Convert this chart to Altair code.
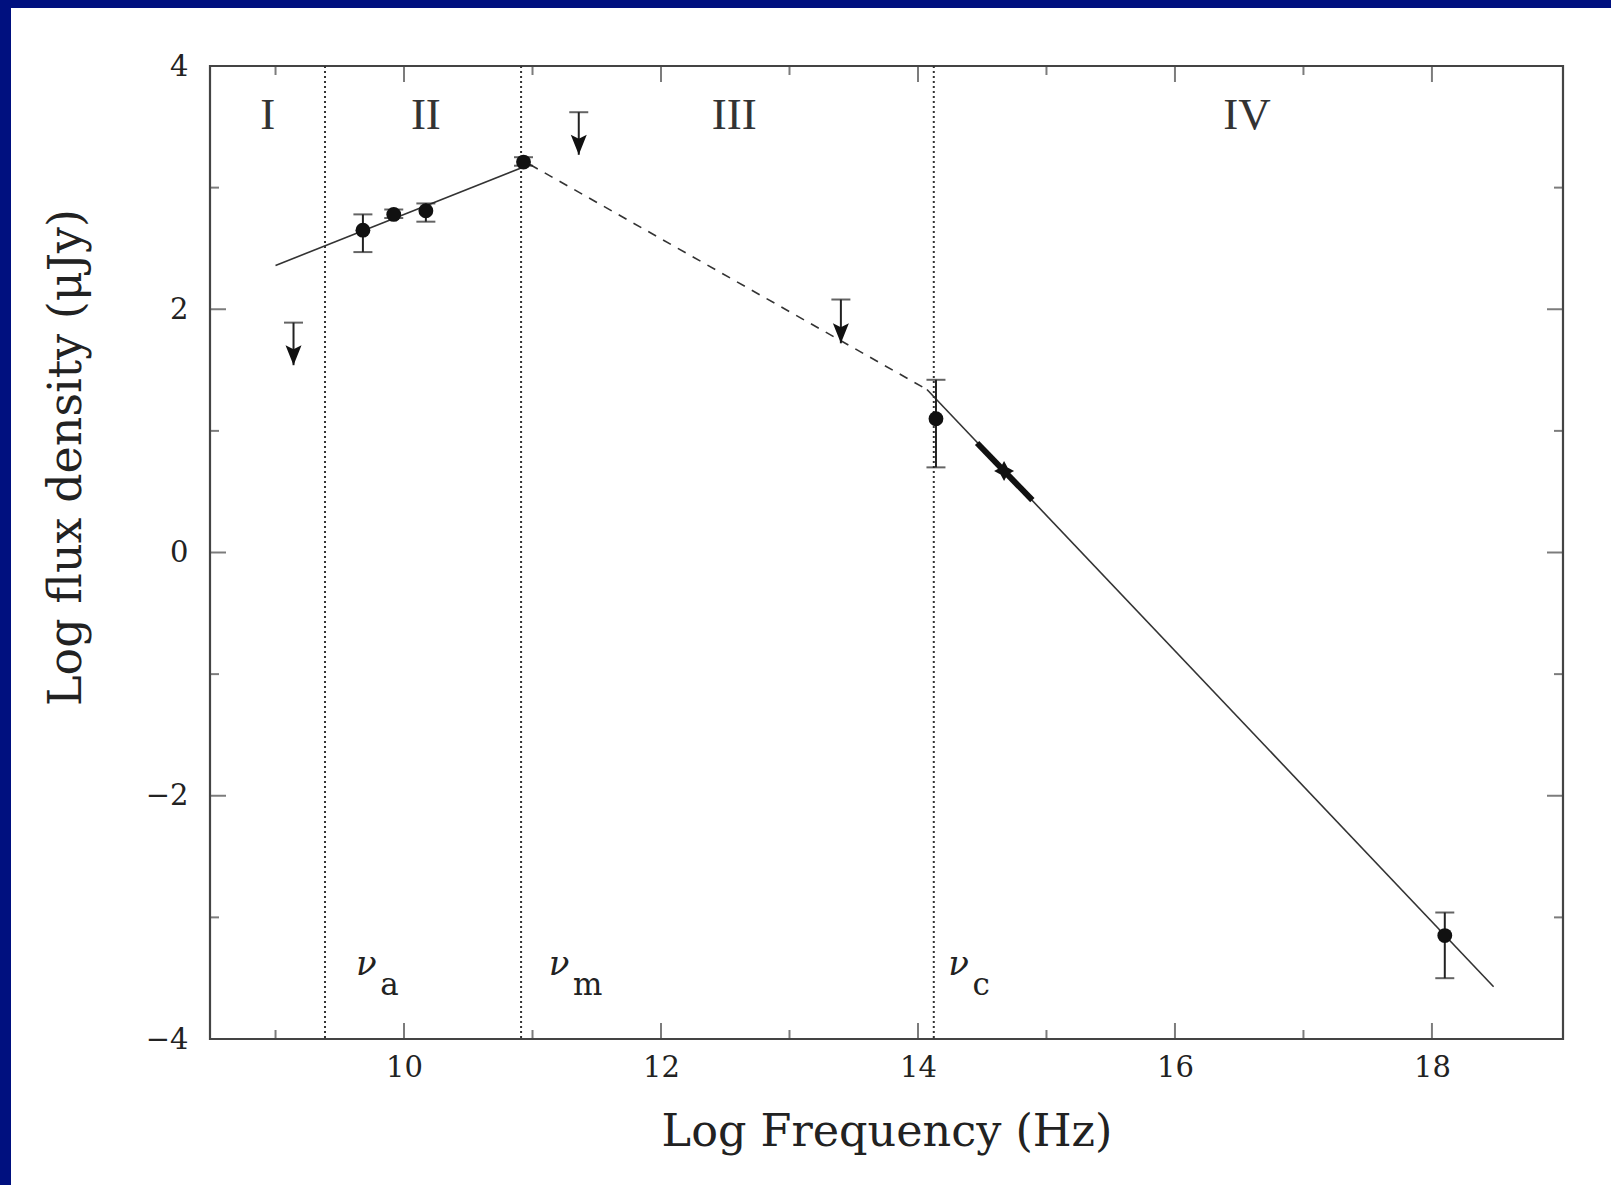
import altair as alt
import pandas as pd

# ---------------- data ----------------
X_DOMAIN = [8.49, 19.02]
Y_DOMAIN = [-4, 4]
x_major = [10, 12, 14, 16, 18]
x_minor = [9, 11, 13, 15, 17]
y_major = [-4, -2, 0, 2, 4]
y_major_inner = [-2, 0, 2]
y_minor = [-3, -1, 1, 3]

# spectral break frequencies (vertical dotted lines) and their labels
break_sub = ["a", "m", "c"]
break_x = [9.385, 10.911, 14.123]
break_label_x = [9.706, 11.207, 14.315]
break_label_y = [-3.474, -3.474, -3.474]

# spectral regimes
regions = ["I", "II", "III", "IV"]
region_x = [8.94, 10.17, 12.57, 16.56]
region_y = [3.48, 3.48, 3.48, 3.48]

# fitted broken power law
rise_x = [9.0, 10.98]
rise_y = [2.36, 3.19]
mid_x = [10.98, 14.07]
mid_y = [3.19, 1.34]
fall_x = [14.07, 18.48]
fall_y = [1.34, -3.57]

# detections with error bars
det_x = [9.68, 9.92, 10.17, 10.93, 14.14, 18.10]
det_y = [2.65, 2.78, 2.81, 3.21, 1.10, -3.15]
det_lo = [2.47, 2.75, 2.72, 3.18, 0.70, -3.50]
det_hi = [2.78, 2.82, 2.87, 3.25, 1.42, -2.96]

# upper limits
ul_x = [9.14, 11.36, 13.40]
ul_cap = [1.89, 3.62, 2.08]
ul_tip = [1.54, 3.27, 1.72]

# optical spectrum segment and point
opt_x = [14.46, 14.89]
opt_y = [0.90, 0.43]
opt_pt_x = [14.67]
opt_pt_y = [0.67]

# ---------------- styling ----------------
W, H = 1353, 973
FONT = "DejaVu Serif"
INK = "#222222"
FRAME = "#444444"
NAVY = "#00107f"

xs = alt.Scale(domain=X_DOMAIN, nice=False, zero=False)
ys = alt.Scale(domain=Y_DOMAIN, nice=False, zero=False)

x_axis = alt.Axis(values=x_major, format="d", ticks=False, tickSize=0, domain=False,
                  grid=False, labelFont=FONT, labelFontSize=29, labelColor=INK,
                  labelPadding=14, labelFlush=False,
                  title="Log Frequency (Hz)", titleFont=FONT, titleFontSize=44.5,
                  titleFontWeight="normal", titleColor=INK, titleY=106,
                  titleBaseline="alphabetic")
y_axis = alt.Axis(values=y_major, format="d", ticks=False, tickSize=0, domain=False,
                  grid=False, labelFont=FONT, labelFontSize=29, labelColor=INK,
                  labelPadding=22, labelFlush=False,
                  title="Log flux density (μJy)", titleFont=FONT, titleFontSize=46,
                  titleFontWeight="normal", titleColor=INK, titleAngle=270,
                  titleX=-130, titleY=391, titleAlign="center",
                  titleBaseline="alphabetic")

X = alt.X("x:Q", scale=xs, axis=x_axis)
Y = alt.Y("y:Q", scale=ys, axis=y_axis)
X2 = alt.X2("x2:Q")
Y2 = alt.Y2("y2:Q")

one = pd.DataFrame({"d": [0]})

# navy border strips (decoration)
navy_top = alt.Chart(one).mark_rect(color=NAVY).encode(
    x=alt.value(-210), x2=alt.value(1611 - 210), y=alt.value(-66), y2=alt.value(-58))
navy_left = alt.Chart(one).mark_rect(color=NAVY).encode(
    x=alt.value(-210), x2=alt.value(-199), y=alt.value(-66), y2=alt.value(1185 - 66))

# inward ticks on all four sides
df_xmaj = pd.DataFrame({"x": x_major})
df_xmin = pd.DataFrame({"x": x_minor})
df_ymaj = pd.DataFrame({"y": y_major_inner})
df_ymin = pd.DataFrame({"y": y_minor})

def xticks(df, size, top):
    off = size / 2 if top else -size / 2
    return alt.Chart(df).mark_tick(orient="vertical", size=size, thickness=2,
                                   color=FRAME, yOffset=off).encode(
        x=X, y=alt.value(0 if top else H))

def yticks(df, size, right):
    off = -size / 2 if right else size / 2
    return alt.Chart(df).mark_tick(orient="horizontal", size=size, thickness=2,
                                   color=FRAME, xOffset=off).encode(
        y=Y, x=alt.value(W if right else 0))

ticks = [xticks(df_xmaj, 16, False), xticks(df_xmaj, 16, True),
         xticks(df_xmin, 9, False), xticks(df_xmin, 9, True),
         yticks(df_ymaj, 16, False), yticks(df_ymaj, 16, True),
         yticks(df_ymin, 9, False), yticks(df_ymin, 9, True)]

# vertical dotted break lines
df_breaks = pd.DataFrame({"x": break_x})
breaks = alt.Chart(df_breaks).mark_rule(strokeDash=[2, 3], strokeWidth=2, color="#333333").encode(x=X)

df_nu = pd.DataFrame({"x": break_label_x, "y": break_label_y, "sub": break_sub, "nu": ["ν"] * 3})
nu_text = alt.Chart(df_nu).mark_text(font=FONT, fontSize=34, fontStyle="italic", color=INK,
                                     align="center", baseline="alphabetic").encode(
    x=X, y=Y, text="nu:N")
nu_sub = alt.Chart(df_nu).mark_text(font=FONT, fontSize=31, color=INK, align="left",
                                    baseline="alphabetic", dx=14, dy=20).encode(
    x=X, y=Y, text="sub:N")

df_reg = pd.DataFrame({"x": region_x, "y": region_y, "t": regions})
reg_text = alt.Chart(df_reg).mark_text(font="Liberation Serif", fontSize=45, color="#333333",
                                       align="center", baseline="alphabetic").encode(
    x=X, y=Y, text="t:N")

# fitted model
df_solid = pd.DataFrame({"x": rise_x + fall_x, "y": rise_y + fall_y,
                         "seg": ["rise"] * len(rise_x) + ["fall"] * len(fall_x)})
df_dash = pd.DataFrame({"x": mid_x, "y": mid_y})
solid = alt.Chart(df_solid).mark_line(color="#333333", strokeWidth=1.6).encode(
    x=X, y=Y, detail="seg:N")
dashed = alt.Chart(df_dash).mark_line(color="#333333", strokeWidth=1.6, strokeDash=[9, 8]).encode(
    x=X, y=Y)

# detections
df_err = pd.DataFrame({"x": det_x, "y": det_lo, "y2": det_hi})
err = alt.Chart(df_err).mark_rule(color=INK, strokeWidth=2).encode(x=X, y=Y, y2=Y2)
df_caps = pd.DataFrame({"x": det_x + det_x, "y": det_lo + det_hi})
caps = alt.Chart(df_caps).mark_tick(orient="horizontal", size=19, thickness=2, color=INK).encode(x=X, y=Y)
df_det = pd.DataFrame({"x": det_x, "y": det_y})
dots = alt.Chart(df_det).mark_point(shape="circle", filled=True, size=220, color="#111111",
                                    opacity=1).encode(x=X, y=Y)

# upper limits
df_ul = pd.DataFrame({"x": ul_x, "y": ul_cap, "y2": ul_tip})
ul_rule = alt.Chart(df_ul).mark_rule(color=INK, strokeWidth=2).encode(x=X, y=Y, y2=Y2)
df_ulcap = pd.DataFrame({"x": ul_x, "y": ul_cap})
ul_caps = alt.Chart(df_ulcap).mark_tick(orient="horizontal", size=19, thickness=2, color=INK).encode(x=X, y=Y)
df_ultip = pd.DataFrame({"x": ul_x, "y": ul_tip})
ul_heads = alt.Chart(df_ultip).mark_point(shape="M0,1L-0.8,-1L0,-0.6L0.8,-1Z", filled=True,
                                          size=400, color="#111111", opacity=1,
                                          yOffset=-10).encode(x=X, y=Y)

# optical spectrum
df_opt = pd.DataFrame({"x": opt_x, "y": opt_y})
opt_line = alt.Chart(df_opt).mark_line(color="#111111", strokeWidth=6).encode(x=X, y=Y)
df_optpt = pd.DataFrame({"x": opt_pt_x, "y": opt_pt_y})
opt_pt = alt.Chart(df_optpt).mark_point(
    shape="M0,-1L0.35,-0.35L1,0L0.35,0.35L0,1L-0.35,0.35L-1,0L-0.35,-0.35Z",
    filled=True, size=400, color="#111111", opacity=1).encode(x=X, y=Y)

chart = alt.layer(
    navy_top, navy_left, *ticks, breaks, solid, dashed, opt_line, opt_pt,
    err, caps, dots, ul_rule, ul_caps, ul_heads, reg_text, nu_text, nu_sub
).properties(
    width=W, height=H,
    padding={"left": 210, "top": 66, "right": 48, "bottom": 146},
    autosize=alt.AutoSizeParams(type="none"),
    background="white",
).configure_view(stroke=FRAME, strokeWidth=2.2)

chart.save("out.html", embed_options={"renderer": "svg", "actions": False})
